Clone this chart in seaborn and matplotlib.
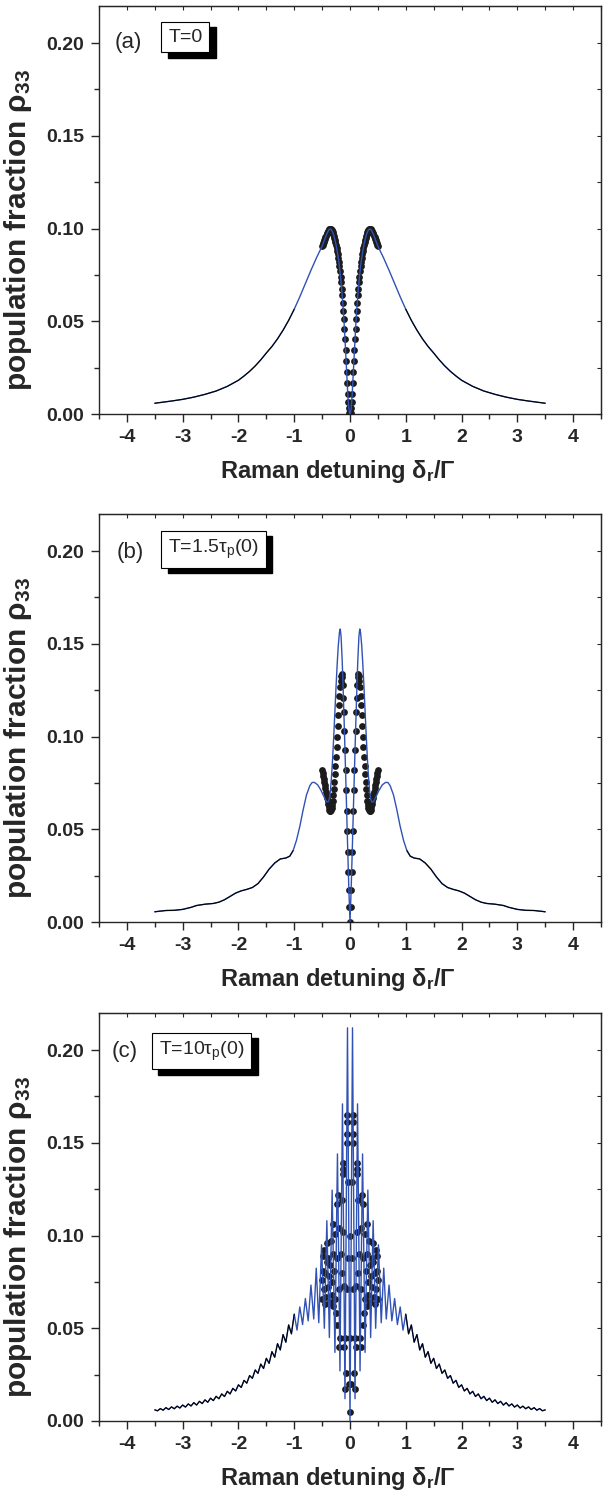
import matplotlib
matplotlib.use("Agg")
import matplotlib.pyplot as plt
from matplotlib.ticker import MultipleLocator, FormatStrFormatter
from matplotlib.patches import Rectangle
import seaborn as sns
import pandas as pd

sns.set_style("ticks")
plt.rcParams["font.family"] = ["Liberation Sans", "DejaVu Sans"]
plt.rcParams["mathtext.default"] = "regular"

# ---- data (right half, x >= 0; the spectra are symmetric in detuning) ----
PANEL_TAGS = ["(a)", "(b)", "(c)"]
PULSE_LABELS = ["T=0", "T=1.5τ$_p$(0)", "T=10τ$_p$(0)"]

# (a) T=0 : line, dots sit on the line for |x| <= 0.5
A_DETUNING = [0.00, 0.01, 0.02, 0.03, 0.04, 0.05, 0.06, 0.07, 0.08, 0.09,
              0.10, 0.11, 0.12, 0.13, 0.14, 0.15, 0.16, 0.17, 0.18, 0.19,
              0.20, 0.21, 0.22, 0.23, 0.24, 0.25, 0.26, 0.27, 0.28, 0.29,
              0.30, 0.31, 0.32, 0.33, 0.34, 0.35, 0.36, 0.37, 0.38, 0.39,
              0.40, 0.41, 0.42, 0.43, 0.44, 0.45, 0.46, 0.47, 0.48, 0.49,
              0.50, 0.60, 0.70, 0.80, 0.90, 1.00, 1.10, 1.20, 1.30, 1.40,
              1.50, 1.60, 1.70, 1.80, 1.90, 2.00, 2.20, 2.40, 2.60, 2.80,
              3.00, 3.20, 3.40, 3.50]
A_RHO = [0.0000, 0.0008, 0.0030, 0.0065, 0.0110, 0.0165, 0.0225, 0.0285, 0.0345, 0.0405,
         0.0460, 0.0512, 0.0558, 0.0600, 0.0640, 0.0676, 0.0710, 0.0741, 0.0770, 0.0796,
         0.0820, 0.0842, 0.0862, 0.0880, 0.0897, 0.0912, 0.0926, 0.0939, 0.0951, 0.0962,
         0.0971, 0.0979, 0.0986, 0.0991, 0.0995, 0.0997, 0.0997, 0.0995, 0.0992, 0.0987,
         0.0981, 0.0975, 0.0968, 0.0961, 0.0953, 0.0945, 0.0937, 0.0929, 0.0921, 0.0913,
         0.0905, 0.0843, 0.0775, 0.0703, 0.0632, 0.0565, 0.0505, 0.0452, 0.0405, 0.0364,
         0.0329, 0.0292, 0.0259, 0.0230, 0.0205, 0.0182, 0.0149, 0.0124, 0.0106, 0.0091,
         0.0079, 0.0070, 0.0062, 0.0058]

# (b) T=1.5 tau_p(0)
B_DETUNING = [0.00, 0.02, 0.04, 0.06, 0.08, 0.10, 0.12, 0.14, 0.16, 0.175,
              0.19, 0.21, 0.23, 0.25, 0.27, 0.29, 0.31, 0.33, 0.35, 0.37,
              0.39, 0.42, 0.46, 0.52, 0.58, 0.64, 0.68, 0.72, 0.78, 0.84,
              0.90, 0.96, 1.02, 1.08, 1.15, 1.25, 1.35, 1.45, 1.55, 1.65,
              1.75, 1.85, 1.95, 2.05, 2.15, 2.25, 2.35, 2.45, 2.60, 2.75,
              2.85, 3.00, 3.15, 3.30, 3.45, 3.50]
B_RHO = [0.000, 0.017, 0.038, 0.060, 0.082, 0.103, 0.123, 0.141, 0.154, 0.158,
         0.156, 0.149, 0.139, 0.127, 0.114, 0.101, 0.089, 0.079, 0.071, 0.0665,
         0.0648, 0.0648, 0.0672, 0.0710, 0.0740, 0.0753, 0.0752, 0.0735, 0.0685, 0.0605,
         0.0515, 0.0440, 0.0385, 0.0355, 0.0345, 0.0340, 0.0318, 0.0285, 0.0243, 0.0207,
         0.0186, 0.0176, 0.0168, 0.0156, 0.0138, 0.0120, 0.0107, 0.0100, 0.0096, 0.0089,
         0.0079, 0.0068, 0.0063, 0.0062, 0.0057, 0.0055]
B_DOT_DETUNING = [0.00, 0.01, 0.02, 0.03, 0.04, 0.05, 0.06, 0.07, 0.08, 0.09,
                  0.10, 0.11, 0.12, 0.13, 0.14, 0.15, 0.16, 0.17, 0.18, 0.19,
                  0.20, 0.21, 0.22, 0.23, 0.24, 0.25, 0.26, 0.27, 0.28, 0.29,
                  0.30, 0.31, 0.32, 0.33, 0.34, 0.35, 0.36, 0.37, 0.38, 0.39,
                  0.40, 0.41, 0.42, 0.43, 0.44, 0.45, 0.46, 0.47, 0.48, 0.49,
                  0.50]
B_DOT_RHO = [0.000, 0.008, 0.017, 0.027, 0.038, 0.049, 0.060, 0.071, 0.082, 0.093,
             0.103, 0.113, 0.121, 0.128, 0.1320, 0.1335, 0.1325, 0.1300, 0.1265, 0.1220,
             0.1170, 0.1115, 0.1058, 0.1000, 0.0945, 0.0892, 0.0842, 0.0796, 0.0754, 0.0716,
             0.0683, 0.0655, 0.0632, 0.0615, 0.0604, 0.0599, 0.0600, 0.0606, 0.0619, 0.0635,
             0.0652, 0.0669, 0.0686, 0.0703, 0.0720, 0.0737, 0.0754, 0.0771, 0.0788, 0.0805,
             0.0822]

# (c) T=10 tau_p(0): fast fringes, read as alternating maxima / minima
C_DETUNING = [0.000, 0.045, 0.090, 0.135, 0.180, 0.225, 0.270, 0.320, 0.370, 0.415,
              0.460, 0.510, 0.560, 0.605, 0.650, 0.700, 0.750, 0.800, 0.850, 0.900,
              0.950, 1.00, 1.05, 1.10, 1.15, 1.20, 1.25, 1.30, 1.35, 1.40,
              1.45, 1.50, 1.55, 1.60, 1.65, 1.70, 1.75, 1.80, 1.85, 1.90,
              1.95, 2.00, 2.05, 2.10, 2.15, 2.20, 2.25, 2.30, 2.35, 2.40,
              2.45, 2.50, 2.55, 2.60, 2.65, 2.70, 2.75, 2.80, 2.85, 2.90,
              2.95, 3.00, 3.05, 3.10, 3.15, 3.20, 3.25, 3.30, 3.35, 3.40,
              3.45, 3.50]
C_RHO = [0.000, 0.212, 0.012, 0.171, 0.027, 0.144, 0.037, 0.1245, 0.045, 0.108,
         0.050, 0.095, 0.053, 0.0824, 0.055, 0.0733, 0.054, 0.0660, 0.052, 0.0615,
         0.049, 0.0576, 0.0470, 0.0518, 0.0425, 0.0466, 0.0383, 0.0417, 0.0344, 0.0374,
         0.0311, 0.0338, 0.0283, 0.0307, 0.0257, 0.0275, 0.0230, 0.0245, 0.0204, 0.0219,
         0.0181, 0.0195, 0.0162, 0.0176, 0.0146, 0.0160, 0.0132, 0.0146, 0.0120, 0.0133,
         0.0110, 0.0123, 0.0101, 0.0114, 0.0094, 0.0106, 0.0086, 0.0099, 0.0081, 0.0092,
         0.0075, 0.0086, 0.0070, 0.0080, 0.0066, 0.0076, 0.0062, 0.0072, 0.0058, 0.0067,
         0.0055, 0.0060]
C_DOT_DETUNING = [0.000, 0.000, 0.000, 0.015, 0.030, 0.030, 0.045, 0.045, 0.045, 0.045,
                  0.060, 0.080, 0.090, 0.090, 0.100, 0.110, 0.130, 0.130, 0.130, 0.130,
                  0.150, 0.150, 0.170, 0.180, 0.190, 0.200, 0.200, 0.220, 0.230, 0.230,
                  0.240, 0.250, 0.260, 0.270, 0.280, 0.300, 0.300, 0.310, 0.320, 0.330,
                  0.340, 0.350, 0.360, 0.370, 0.390, 0.400, 0.410, 0.420, 0.430, 0.440,
                  0.450, 0.460, 0.470, 0.480, 0.490, 0.495, 0.500]
C_DOT_RHO = [0.005, 0.045, 0.100, 0.020, 0.129, 0.088, 0.165, 0.161, 0.155, 0.150,
             0.071, 0.026, 0.017, 0.045, 0.040, 0.073, 0.139, 0.136, 0.133, 0.102,
             0.119, 0.080, 0.090, 0.045, 0.040, 0.104, 0.071, 0.122, 0.117, 0.052,
             0.088, 0.058, 0.101, 0.066, 0.081, 0.106, 0.062, 0.090, 0.075, 0.068,
             0.097, 0.084, 0.064, 0.078, 0.088, 0.072, 0.096, 0.086, 0.067, 0.080,
             0.063, 0.092, 0.071, 0.089, 0.081, 0.076, 0.066]

BLUE = "#3152b5"
DOT = "#1c1c1c"


def mirror(xs, ys):
    """Build the full symmetric curve from the x >= 0 half."""
    left = [(-x, y) for x, y in zip(xs, ys) if x > 0][::-1]
    return pd.DataFrame(left + list(zip(xs, ys)), columns=["det", "rho"])


lines = [mirror(A_DETUNING, A_RHO), mirror(B_DETUNING, B_RHO), mirror(C_DETUNING, C_RHO)]
a_full = lines[0]
dots = [a_full[a_full["det"].abs() <= 0.5],
        mirror(B_DOT_DETUNING, B_DOT_RHO),
        mirror(C_DOT_DETUNING, C_DOT_RHO)]

fig = plt.figure(figsize=(6.11, 14.99), dpi=100)
bottoms = [0.72381, 0.38492, 0.05204]
tag_pos = [(-4.22, 0.2005), (-4.18, 0.199), (-4.27, 0.199)]
box_pos = [(-3.26, 0.2032), (-3.26, 0.201), (-3.43, 0.1995)]

axes, boxes = [], []
for i in range(3):
    ax = fig.add_axes([0.16203, bottoms[i], 0.8216, 0.27218])
    df = lines[i]
    sns.lineplot(data=df, x="det", y="rho", ax=ax, sort=False, estimator=None,
                 color=BLUE, lw=1.0, zorder=4)
    for part in (df[df["det"] <= -1.0], df[df["det"] >= 1.0]):
        sns.lineplot(data=part, x="det", y="rho", ax=ax, sort=False, estimator=None,
                     color="black", lw=0.8, zorder=5)
    sns.scatterplot(data=dots[i], x="det", y="rho", ax=ax, color=DOT, s=24,
                    linewidth=0, zorder=3)

    ax.set_xlim(-4.5, 4.5)
    ax.set_ylim(0, 0.22)
    ax.xaxis.set_major_locator(MultipleLocator(1))
    ax.xaxis.set_minor_locator(MultipleLocator(0.5))
    ax.yaxis.set_major_locator(MultipleLocator(0.05))
    ax.yaxis.set_minor_locator(MultipleLocator(0.025))
    ax.yaxis.set_major_formatter(FormatStrFormatter("%.2f"))
    ax.xaxis.set_major_formatter(FormatStrFormatter("%d"))
    ax.tick_params(which="major", direction="out", length=5.5, width=1.0, pad=5,
                   labelsize=14)
    ax.tick_params(which="minor", direction="out", length=3.5, width=1.0)
    for lab in ax.get_xticklabels() + ax.get_yticklabels():
        lab.set_fontweight("bold")
    for sp in ax.spines.values():
        sp.set_visible(True)
        sp.set_linewidth(1.0)

    top = ax.secondary_xaxis("top")
    top.xaxis.set_major_locator(MultipleLocator(1))
    top.xaxis.set_minor_locator(MultipleLocator(0.5))
    top.tick_params(which="both", direction="in", labeltop=False, length=3, width=0.8)
    right = ax.secondary_yaxis("right")
    right.yaxis.set_major_locator(MultipleLocator(0.05))
    right.yaxis.set_minor_locator(MultipleLocator(0.025))
    right.tick_params(which="both", direction="in", labelright=False, length=3, width=0.8)

    ax.set_xlabel("Raman detuning δ$_r$/Γ", fontsize=17, fontweight="bold")
    ax.set_ylabel("population fraction ρ$_{33}$", fontsize=21.5, fontweight="bold")
    ax.xaxis.set_label_coords(0.475, -0.108)
    ax.yaxis.set_label_coords(-0.13, 0.45)

    ax.text(tag_pos[i][0], tag_pos[i][1], PANEL_TAGS[i], fontsize=16,
            ha="left", va="center")
    bx, by = box_pos[i]
    t = ax.text(bx, by, PULSE_LABELS[i], fontsize=14, ha="left", va="center",
                zorder=7,
                bbox=dict(boxstyle="square,pad=0.35", fc="white", ec="black", lw=0.8))
    axes.append(ax)
    boxes.append(t)

# drop shadow behind each label box (offset right / down, in pixels)
fig.canvas.draw()
renderer = fig.canvas.get_renderer()
for ax, t in zip(axes, boxes):
    bb = t.get_bbox_patch().get_window_extent(renderer)
    inv = ax.transAxes.inverted()
    (x0, y0) = inv.transform((bb.x0 + 6.5, bb.y0 - 5.5))
    (x1, y1) = inv.transform((bb.x1 + 6.5, bb.y1 - 5.5))
    ax.add_patch(Rectangle((x0, y0), x1 - x0, y1 - y0, transform=ax.transAxes,
                           facecolor="black", edgecolor="black", zorder=6,
                           clip_on=False))

fig.savefig("out.png", dpi=100)
